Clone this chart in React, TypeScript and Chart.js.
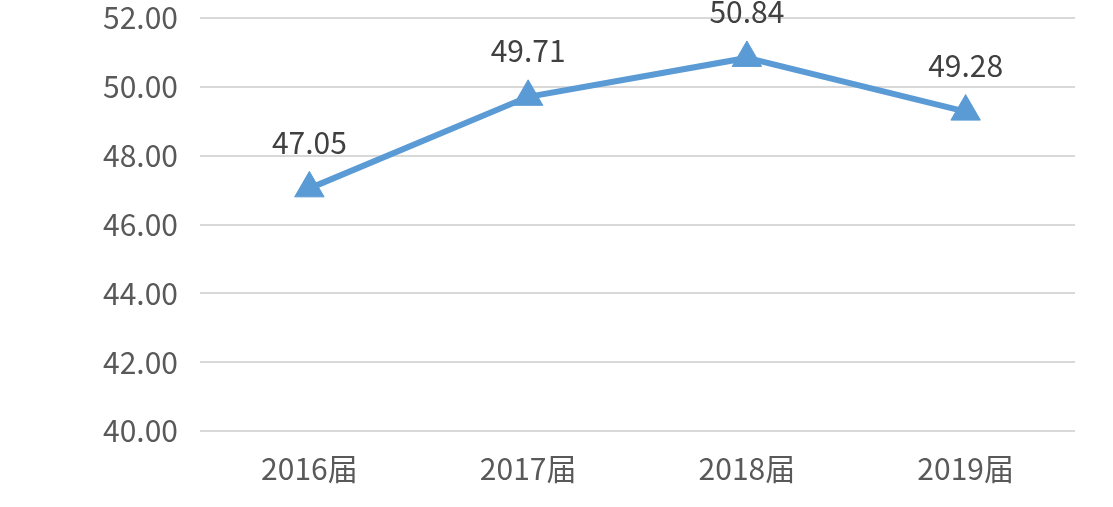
import React, { useEffect, useRef } from "react";
import { Chart, registerables } from "chart.js";

Chart.register(...registerables);

const categories = ["2016届", "2017届", "2018届", "2019届"];
const values = [47.05, 49.71, 50.84, 49.28];
const yMin = 40;
const yMax = 52;
const yStep = 2;

const FONT = "'Noto Sans CJK SC', 'Open Sans', sans-serif";

const dataLabelPlugin = {
  id: "dataLabels",
  afterDatasetsDraw(chart: any) {
    const ctx = chart.ctx;
    const meta = chart.getDatasetMeta(0);
    ctx.save();
    ctx.font = `30px ${FONT}`;
    ctx.fillStyle = "#404040";
    ctx.textAlign = "center";
    ctx.textBaseline = "middle";
    meta.data.forEach((pt: any, i: number) => {
      ctx.fillText(values[i].toFixed(2), pt.x, pt.y - 46);
    });
    ctx.restore();
  },
};

export default function App() {
  const ref = useRef<HTMLCanvasElement | null>(null);
  useEffect(() => {
    document.body.style.margin = "0";
    const chart = new Chart(ref.current as HTMLCanvasElement, {
      type: "line",
      data: {
        labels: categories,
        datasets: [
          {
            data: values,
            borderColor: "#5b9bd5",
            backgroundColor: "#5b9bd5",
            borderWidth: 6,
            pointStyle: "triangle",
            pointRadius: 17,
            pointBorderWidth: 1,
            pointBackgroundColor: "#5b9bd5",
            pointBorderColor: "#5b9bd5",
            tension: 0,
          },
        ],
      },
      plugins: [dataLabelPlugin],
      options: {
        animation: false,
        responsive: true,
        maintainAspectRatio: false,
        layout: { padding: { top: 0, right: 38, bottom: 0, left: 0 } },
        plugins: { legend: { display: false }, tooltip: { enabled: false } },
        scales: {
          x: {
            offset: true,
            grid: { display: false, drawTicks: false },
            border: { display: false },
            ticks: { font: { size: 30, family: FONT }, color: "#595959", padding: 20 },
          },
          y: {
            min: yMin,
            max: yMax,
            afterFit(scale: any) {
              scale.width = 200;
            },
            grid: { color: "#d9d9d9", lineWidth: 2, drawTicks: false },
            border: { display: false },
            ticks: {
              stepSize: yStep,
              font: { size: 30, family: FONT, lineHeight: 1 },
              color: "#595959",
              padding: 22,
              callback: (v: any) => Number(v).toFixed(2),
            },
          },
        },
      },
    });
    return () => chart.destroy();
  }, []);
  return (
    <div style={{ position: "relative", width: 1113, height: 507, overflow: "hidden" }}>
      <div style={{ position: "absolute", left: 0, top: -19, width: 1113, height: 526 }}>
        <canvas ref={ref} />
      </div>
    </div>
  );
}
